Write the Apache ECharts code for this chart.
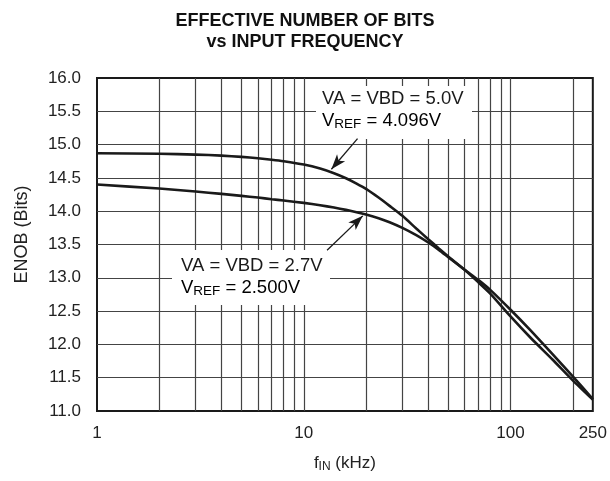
<!DOCTYPE html>
<html>
<head>
<meta charset="utf-8">
<script src="https://cdn.jsdelivr.net/npm/echarts@6/dist/echarts.min.js"></script>
<style>
  html, body { margin: 0; padding: 0; background: #fff; }
  #chart { width: 610px; height: 481px; }
</style>
</head>
<body>
<div id="chart"></div>
<script>
// Input frequency (kHz) and measured effective number of bits
const freqKHz = [1, 2, 3, 4, 5, 6, 7, 8, 10, 12, 14, 16, 18, 20, 23, 26, 30, 35, 40, 45, 50, 60, 70, 80, 100, 125, 160, 200, 250];
const enobVA5V0 = [14.870, 14.862, 14.850, 14.835, 14.815, 14.795, 14.773, 14.750, 14.700, 14.640, 14.570, 14.495, 14.415, 14.335, 14.205, 14.080, 13.930, 13.740, 13.580, 13.440, 13.320, 13.120, 12.930, 12.760, 12.420, 12.100, 11.770, 11.460, 11.170];
const enobVA2V7 = [14.400, 14.340, 14.295, 14.260, 14.230, 14.205, 14.180, 14.160, 14.125, 14.090, 14.055, 14.020, 13.985, 13.950, 13.895, 13.835, 13.750, 13.640, 13.530, 13.420, 13.310, 13.120, 12.965, 12.815, 12.520, 12.210, 11.850, 11.520, 11.180];

// Log-decade grid lines between the labelled decades
const minorFreqs = [2, 3, 4, 5, 6, 7, 8, 9, 20, 30, 40, 50, 60, 70, 80, 90, 200];

// Callout arrows: [from, to] as [kHz, bits]
const arrow5V0 = [[18.2, 15.09], [13.6, 14.63]];
const arrow2V7 = [[12.96, 13.415], [19.3, 13.93]];

const FONT = 'Liberation Sans, Arial, Helvetica, sans-serif';
const INK = '#1a1a1a';
const GRID = '#444';

const pairs = (ys) => freqKHz.map((f, i) => [f, ys[i]]);

const chart = echarts.init(document.getElementById('chart'), null, { renderer: 'canvas' });

const textRich = {
  a: { fontSize: 18.5, fontFamily: FONT, color: INK, lineHeight: 20, verticalAlign: 'top', padding: [0, 0, 4.5, 0] },
  s: { fontSize: 13.5, fontFamily: FONT, color: INK, lineHeight: 14, verticalAlign: 'bottom' }
};

chart.setOption({
  animation: false,
  backgroundColor: '#fff',
  title: {
    text: 'EFFECTIVE NUMBER OF BITS\nvs INPUT FREQUENCY',
    left: 'center',
    top: 6,
    textStyle: { fontFamily: FONT, fontSize: 18, fontWeight: 'bold', color: '#111', lineHeight: 21 }
  },
  grid: {
    left: 97, right: 17, top: 78, bottom: 67,
    show: true, borderColor: INK, borderWidth: 2, backgroundColor: 'transparent'
  },
  xAxis: {
    type: 'log',
    logBase: 10,
    min: 1,
    max: 250,
    name: '{a|f}{s|IN}{a| (kHz)}',
    nameLocation: 'middle',
    nameGap: 44,
    nameTextStyle: {
      rich: {
        a: { fontSize: 17, fontFamily: FONT, color: '#222', lineHeight: 18, verticalAlign: 'top', padding: [0, 0, 4, 0] },
        s: { fontSize: 12, fontFamily: FONT, color: '#222', lineHeight: 12, verticalAlign: 'bottom' }
      }
    },
    axisLine: { show: false },
    axisTick: { show: false },
    axisLabel: {
      fontSize: 17, fontFamily: FONT, color: '#222', margin: 14,
      formatter: (v) => String(Math.round(v))
    },
    splitLine: { show: true, showMinLine: false, showMaxLine: false, lineStyle: { color: GRID, width: 1.2 } }
  },
  yAxis: {
    type: 'value',
    min: 11,
    max: 16,
    interval: 0.5,
    name: 'ENOB (Bits)',
    nameLocation: 'middle',
    nameGap: 66,
    nameTextStyle: { fontSize: 18, fontFamily: FONT, color: '#222', padding: [0, 0, 0, 20] },
    axisLine: { show: false },
    axisTick: { show: false },
    axisLabel: {
      fontSize: 17, fontFamily: FONT, color: '#222', margin: 16,
      formatter: (v) => v.toFixed(1)
    },
    splitLine: { show: true, showMinLine: false, showMaxLine: false, lineStyle: { color: GRID, width: 1.2 } }
  },
  series: [
    {
      name: 'minor grid',
      type: 'line',
      data: [],
      silent: true,
      z: 1,
      markLine: {
        silent: true,
        z: 1,
        symbol: 'none',
        animation: false,
        label: { show: false },
        lineStyle: { color: GRID, width: 1.2, type: 'solid' },
        emphasis: { disabled: true },
        data: minorFreqs.map((f) => ({ xAxis: f }))
      }
    },
    {
      name: 'VA = VBD = 5.0V',
      type: 'line',
      data: pairs(enobVA5V0),
      showSymbol: false,
      smooth: 0.2,
      z: 3,
      lineStyle: { color: INK, width: 2.6 }
    },
    {
      name: 'VA = VBD = 2.7V',
      type: 'line',
      data: pairs(enobVA2V7),
      showSymbol: false,
      smooth: 0.2,
      z: 3,
      lineStyle: { color: INK, width: 2.6 }
    },
    {
      name: 'callouts',
      type: 'line',
      data: [],
      silent: true,
      z: 5,
      markLine: {
        silent: true,
        z: 5,
        symbol: ['none', 'arrow'],
        symbolSize: [8, 15],
        animation: false,
        label: { show: false },
        lineStyle: { color: INK, width: 1.3, type: 'solid' },
        emphasis: { disabled: true },
        data: [
          [{ coord: arrow5V0[0] }, { coord: arrow5V0[1] }],
          [{ coord: arrow2V7[0] }, { coord: arrow2V7[1] }]
        ]
      }
    }
  ],
  graphic: [
    // white panels behind the condition labels
    { type: 'rect', z: 2, silent: true, shape: { x: 316, y: 86, width: 156, height: 53 }, style: { fill: '#fff' } },
    { type: 'rect', z: 2, silent: true, shape: { x: 172, y: 250, width: 158, height: 55 }, style: { fill: '#fff' } },
    {
      type: 'text', z: 6, silent: true, x: 322, y: 99,
      style: { text: 'VA = VBD = 5.0V', fontSize: 18.5, fontFamily: FONT, fill: INK, verticalAlign: 'middle' }
    },
    {
      type: 'text', z: 6, silent: true, x: 322, y: 111.7,
      style: { text: '{a|V}{s|REF}{a| = 4.096V}', rich: textRich, verticalAlign: 'top' }
    },
    {
      type: 'text', z: 6, silent: true, x: 181, y: 265.5,
      style: { text: 'VA = VBD = 2.7V', fontSize: 18.5, fontFamily: FONT, fill: INK, verticalAlign: 'middle' }
    },
    {
      type: 'text', z: 6, silent: true, x: 181, y: 278,
      style: { text: '{a|V}{s|REF}{a| = 2.500V}', rich: textRich, verticalAlign: 'top' }
    }
  ]
});
</script>
</body>
</html>
